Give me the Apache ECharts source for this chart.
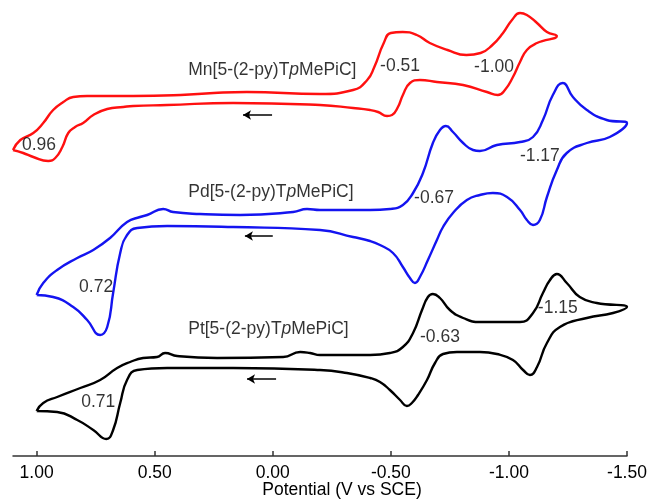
<!DOCTYPE html>
<html>
<head>
<meta charset="utf-8">
<script src="https://cdn.jsdelivr.net/npm/echarts@6/dist/echarts.min.js"></script>
<style>
    html, body { margin: 0; padding: 0; background: #fff; }
    #chart { width: 651px; height: 501px; }
</style>
</head>
<body>
<div id="chart"></div>
<script>
// potential (V vs SCE), current (a.u., offset per complex)
var mnCurve = [
    [1.10, 306], [1.069, 316], [1.014, 323], [0.972, 333], [0.930, 346], [0.887, 354], [0.845, 359],
    [0.786, 360], [0.591, 360], [0.39, 361], [0.25, 363], [0.11, 364], [-0.20, 362], [-0.34, 366],
    [-0.40, 376], [-0.43, 389], [-0.47, 413], [-0.50, 423], [-0.55, 424], [-0.61, 421], [-0.665, 413],
    [-0.74, 406], [-0.82, 401], [-0.88, 403], [-0.93, 411], [-0.975, 423], [-1.013, 436], [-1.047, 443],
    [-1.076, 441], [-1.119, 433], [-1.161, 424], [-1.203, 420],
    [-1.119, 413], [-1.076, 406], [-1.047, 394], [-1.017, 379], [-0.983, 366], [-0.953, 361],
    [-0.907, 364], [-0.806, 371], [-0.695, 374], [-0.623, 376], [-0.581, 373], [-0.551, 361],
    [-0.53, 349], [-0.505, 341], [-0.484, 340], [-0.446, 344], [-0.412, 346], [-0.34, 348],
    [-0.20, 351], [0.168, 353], [0.447, 351], [0.591, 350], [0.633, 349], [0.701, 347], [0.76, 341],
    [0.803, 333], [0.837, 329], [0.866, 323], [0.891, 309], [0.921, 298], [0.951, 295], [1.014, 299],
    [1.057, 303], [1.10, 306]
]
var pdCurve = [
    [1.00, 161], [0.972, 173], [0.913, 186], [0.828, 198], [0.76, 206], [0.689, 218], [0.617, 234],
    [0.562, 239], [0.532, 241], [0.464, 247], [0.422, 244], [0.308, 242], [0.138, 241], [-0.086, 244],
    [-0.145, 247], [-0.20, 246], [-0.412, 246], [-0.496, 247], [-0.551, 251], [-0.594, 263],
    [-0.636, 283], [-0.678, 313], [-0.708, 326], [-0.733, 330], [-0.763, 324], [-0.806, 313],
    [-0.848, 306], [-0.877, 305], [-0.949, 311], [-1.047, 314], [-1.102, 319], [-1.144, 336],
    [-1.186, 361], [-1.228, 373], [-1.271, 359], [-1.33, 346], [-1.414, 336], [-1.50, 333],
    [-1.427, 319], [-1.33, 313], [-1.245, 303], [-1.203, 286], [-1.161, 259], [-1.131, 236],
    [-1.102, 231], [-1.076, 236], [-1.047, 246], [-0.992, 259], [-0.932, 263], [-0.877, 261],
    [-0.822, 256], [-0.763, 243], [-0.721, 229], [-0.695, 216], [-0.657, 196], [-0.623, 179],
    [-0.602, 173], [-0.581, 178], [-0.551, 189], [-0.509, 203], [-0.454, 211], [-0.412, 215],
    [-0.34, 219], [-0.20, 226], [0.168, 229], [0.447, 230], [0.574, 228], [0.617, 221], [0.646, 203],
    [0.676, 163], [0.701, 129], [0.731, 121], [0.786, 136], [0.845, 149], [0.93, 159], [1.00, 161]
]
var ptCurve = [
    [1.00, 45], [0.972, 53], [0.913, 59], [0.815, 68], [0.731, 76], [0.659, 88], [0.604, 94],
    [0.549, 98], [0.49, 99], [0.456, 103], [0.405, 100], [0.236, 98], [-0.044, 99], [-0.116, 104],
    [-0.158, 103], [-0.20, 101], [-0.412, 101], [-0.496, 103], [-0.551, 109], [-0.594, 123],
    [-0.632, 146], [-0.657, 159], [-0.678, 162], [-0.708, 158], [-0.75, 146], [-0.806, 138],
    [-0.877, 134], [-1.047, 134], [-1.102, 143], [-1.144, 163], [-1.174, 176], [-1.203, 182],
    [-1.245, 173], [-1.30, 159], [-1.372, 153], [-1.50, 149],
    [-1.441, 143], [-1.33, 138], [-1.216, 129], [-1.161, 113], [-1.119, 89], [-1.089, 81], [-1.06, 86],
    [-1.017, 96], [-0.949, 102], [-0.877, 104], [-0.78, 104], [-0.721, 102], [-0.687, 93],
    [-0.653, 76], [-0.615, 61], [-0.589, 53], [-0.568, 50], [-0.539, 56], [-0.496, 66], [-0.454, 74],
    [-0.412, 78], [-0.314, 83], [-0.20, 86], [0.168, 88], [0.447, 88], [0.574, 86], [0.617, 76],
    [0.646, 53], [0.676, 26], [0.705, 17], [0.76, 26], [0.828, 36], [0.913, 44], [1.00, 45]
]

// compound names and peak potentials: [V, current, text]
var compoundLabels = [
    [0.358, 386, 'Mn[5-(2-py)T{i|p}MePiC]'],
    [0.358, 264, 'Pd[5-(2-py)T{i|p}MePiC]'],
    [0.358, 127, 'Pt[5-(2-py)T{i|p}MePiC]']
]
var peakLabels = [
    [0.99, 311, '0.96'], [-0.539, 390, '-0.51'], [-0.937, 389, '-1.00'],
    [0.748, 169, '0.72'], [-0.683, 258, '-0.67'], [-1.131, 300, '-1.17'],
    [0.739, 54, '0.71'], [-0.708, 119, '-0.63'], [-1.207, 148, '-1.15']
]
// scan direction arrows: [from V, to V, current]
var scanArrows = [
    [0.003, 0.126, 341],
    [0.0, 0.118, 220],
    [-0.014, 0.109, 77]
]

var chart = echarts.init(document.getElementById('chart'))
var font = 'Liberation Sans, Arial, sans-serif'
var textColor = '#000'

function curve(name, data, color) {
    return {
        name: name,
        type: 'line',
        data: data,
        smooth: 0.5,
        showSymbol: false,
        lineStyle: { color: color, width: 2.4 },
        z: 2
    }
}

var options = {
    animation: false,
    grid: { left: 13, right: 24, top: 0, bottom: 45, outerBoundsMode: 'none' },
    xAxis: {
        type: 'value',
        inverse: true,
        min: -1.5,
        max: 1.1,
        interval: 0.5,
        name: 'Potential (V vs SCE)',
        nameLocation: 'middle',
        nameGap: 25,
        nameMoveOverlap: false,
        nameTextStyle: { fontFamily: font, fontSize: 17.5, color: textColor, padding: [0, 0, 0, 44] },
        axisLine: { lineStyle: { color: '#333', width: 1.5 } },
        axisTick: { inside: true, length: 5, lineStyle: { color: '#333', width: 1.5 } },
        axisLabel: {
            fontFamily: font,
            fontSize: 17.5,
            color: textColor,
            margin: 8,
            showMaxLabel: false,
            formatter: function (v) { return v.toFixed(2) }
        },
        splitLine: { show: false }
    },
    yAxis: {
        type: 'value',
        min: 0,
        max: 456,
        show: false
    },
    series: [
        curve('Mn', mnCurve, '#ff1010'),
        curve('Pd', pdCurve, '#1414f0'),
        curve('Pt', ptCurve, '#000000'),
        {
            type: 'scatter',
            symbolSize: 0,
            data: compoundLabels,
            label: {
                show: true,
                position: 'right',
                distance: 0,
                fontFamily: font,
                fontSize: 17.5,
                color: textColor,
                formatter: function (p) { return p.data[2] },
                rich: { i: { fontFamily: font, fontSize: 17.5, fontStyle: 'italic', color: textColor } }
            }
        },
        {
            type: 'scatter',
            symbolSize: 0,
            data: peakLabels,
            label: {
                show: true,
                position: 'inside',
                fontFamily: font,
                fontSize: 17.5,
                color: textColor,
                formatter: function (p) { return p.data[2] }
            }
        },
        {
            type: 'line',
            data: [],
            markLine: {
                silent: true,
                symbol: ['none', 'arrow'],
                symbolSize: [7, 8],
                label: { show: false },
                lineStyle: { color: '#000', width: 1.5, type: 'solid' },
                data: scanArrows.map(function (a) {
                    return [{ coord: [a[0], a[2]] }, { coord: [a[1], a[2]] }]
                })
            }
        }
    ]
}
chart.setOption(options)
</script>
</body>
</html>
